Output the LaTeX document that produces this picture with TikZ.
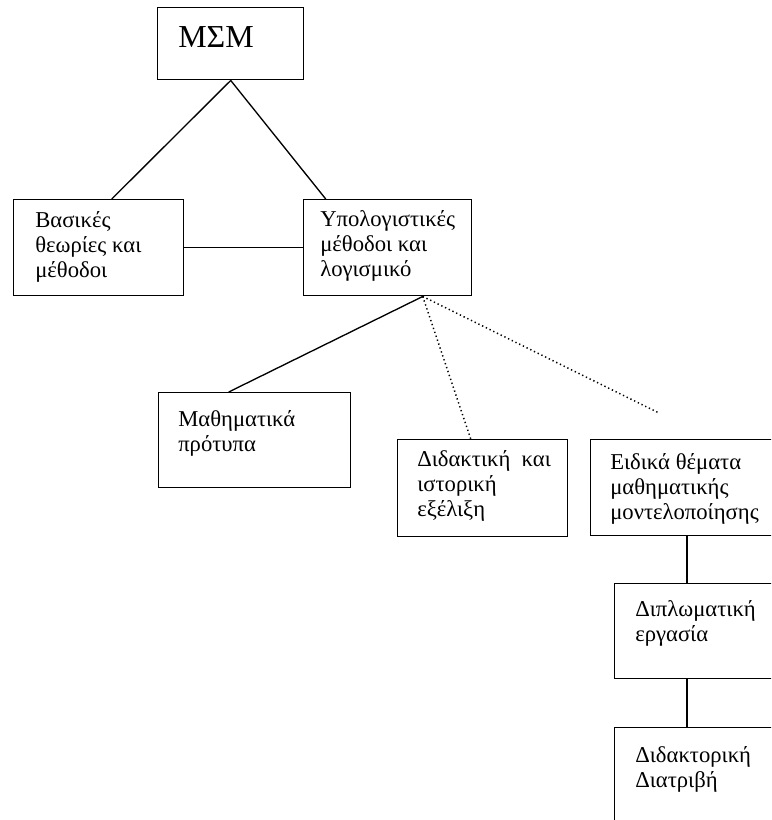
\documentclass[tikz,border=0pt]{standalone}
\usepackage{fontspec}
\setmainfont{Liberation Serif}
\begin{document}
\begin{tikzpicture}[x=0.75pt,y=0.75pt,yscale=-1,xscale=1,
		box/.style={draw, line width=1.1pt, anchor=north west, inner sep=0pt},
		lbl/.style={anchor=base west, inner sep=0pt, align=left, font=\fontsize{17pt}{18.5pt}\selectfont},
		link/.style={line width=1pt},
		dotline/.style={line width=1.1pt, dash pattern=on 1pt off 2.1pt}]
	\useasboundingbox (0,0) rectangle (771,820);
	\clip (0,0) rectangle (771,820);
	
	%Shape: Rectangle [msm]
	\node[box, minimum width=109.5pt, minimum height=54pt] (msm) at (157,7) {};
	%Shape: Rectangle [basic]
	\node[box, minimum width=127.5pt, minimum height=72pt] (basic) at (13,199) {};
	%Shape: Rectangle [comp]
	\node[box, minimum width=126pt, minimum height=72pt] (comp) at (303,199) {};
	%Shape: Rectangle [models]
	\node[box, minimum width=144pt, minimum height=71.25pt] (models) at (158,392) {};
	%Shape: Rectangle [didact]
	\node[box, minimum width=127.5pt, minimum height=72.75pt] (didact) at (397,439) {};
	%Shape: Rectangle [special]
	\node[box, minimum width=165pt, minimum height=72pt] (special) at (590,439) {};
	%Shape: Rectangle [thesis]
	\node[box, minimum width=150pt, minimum height=71.25pt] (thesis) at (614,583) {};
	%Shape: Rectangle [phd]
	\node[box, minimum width=150pt, minimum height=72.75pt] (phd) at (614,727) {};
	
	% Text Node
	\node[lbl, font=\fontsize{24pt}{26pt}\selectfont] (msm-t) at ([shift={(21,41)}]msm.north west) {ΜΣΜ};
	% Text Node
	\node[lbl] (basic-t) at ([shift={(22,78)}]basic.north west) {Βασικές\\θεωρίες και\\μέθοδοι};
	% Text Node
	\node[lbl] (comp-t) at ([shift={(17,77)}]comp.north west) {Υπολογιστικές\\μέθοδοι και\\λογισμικό};
	% Text Node
	\node[lbl] (models-t) at ([shift={(20,59)}]models.north west) {Μαθηματικά\\πρότυπα};
	% Text Node
	\node[lbl] (didact-t) at ([shift={(20,77)}]didact.north west) {Διδακτική\ \ και\\ιστορική\\εξέλιξη};
	% Text Node
	\node[lbl] (special-t) at ([shift={(20,80)}]special.north west) {Ειδικά θέματα\\μαθηματικής\\μοντελοποίησης};
	% Text Node
	\node[lbl] (thesis-t) at ([shift={(21,58)}]thesis.north west) {Διπλωματική\\εργασία};
	% Text Node
	\node[lbl] (phd-t) at ([shift={(21,60)}]phd.north west) {Διδακτορική\\Διατριβή};
	
	%Straight Lines
	\draw[link] (msm.south) -- ([shift={(13,0)}]basic.north);
	\draw[link] (msm.south) -- ([shift={(-62,0)}]comp.north);
	\draw[link] (basic.east) -- (comp.west);
	\draw[link] ([shift={(35,0)}]comp.south) -- ([shift={(-26,0)}]models.north);
	\draw[dotline] ([shift={(35,0)}]comp.south) -- ([shift={(-12,0)}]didact.north);
	\coordinate (open) at (659,413);
	\draw[dotline] ([shift={(35,0)}]comp.south) -- (open);
	\draw[link] ([shift={(97,0)}]special.south west) -- ([shift={(73,0)}]thesis.north west);
	\draw[link] ([shift={(73,0)}]thesis.south west) -- ([shift={(73,0)}]phd.north west);
	
\end{tikzpicture}
\end{document}
